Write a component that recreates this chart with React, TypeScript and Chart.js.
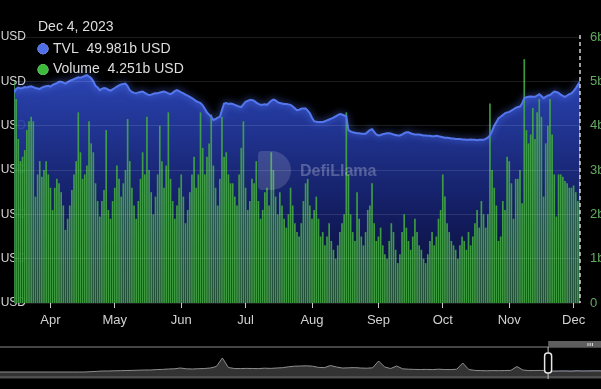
import React, { useEffect, useRef } from 'react';
import { Chart, registerables, Tooltip } from 'chart.js';

Chart.register(...registerables);

// ---------------- data ----------------
const START_YEAR = 2023;
const START_MONTH = 2; // March (0-based)
const START_DAY = 15;

const TVL = [
  47.5, 48.3, 48.6, 48.4, 48.5, 48.7, 48.6, 48.8, 48.9, 48.7,
  48.5, 48.4, 48.3, 48.6, 48.8, 48.9, 49.0, 48.8, 49.2, 49.4,
  49.6, 49.9, 49.9, 49.7, 49.5, 49.8, 50.1, 50.3, 50.5, 50.7,
  50.9, 50.8, 51.0, 51.2, 51.4, 51.1, 50.7, 50.0, 49.0, 48.6,
  48.0, 48.3, 48.5, 48.4, 48.1, 47.9, 48.2, 48.5, 48.8, 49.1,
  49.3, 49.4, 49.5, 48.9, 48.0, 47.6, 47.4, 47.3, 47.5, 47.6,
  47.7, 47.4, 47.1, 46.9, 47.0, 47.2, 47.3, 47.3, 47.5, 47.6,
  47.7, 47.5, 47.3, 47.1, 47.4, 47.8, 48.0, 47.8, 47.5, 47.3,
  47.0, 46.8, 46.5, 46.2, 45.9, 45.5, 45.3, 45.1, 44.6, 43.8,
  43.0, 42.5, 42.0, 41.3, 41.5, 41.8, 42.0, 43.5, 45.0, 45.1,
  44.9, 45.0, 44.9, 44.7, 44.5, 44.3, 44.2, 44.8, 45.4, 45.6,
  45.8, 45.8, 45.6, 45.2, 44.9, 44.7, 44.7, 44.8, 44.7, 45.2,
  45.6, 45.9, 45.7, 45.3, 45.1, 45.0, 44.9, 44.9, 44.8, 44.7,
  44.3, 43.9, 43.5, 43.6, 43.8, 43.9, 43.9, 43.4, 42.8, 41.8,
  41.0, 40.9, 40.8, 40.8, 40.8, 41.0, 41.2, 41.4, 41.6, 41.8,
  42.1, 42.4, 42.6, 42.5, 42.3, 42.1, 39.0, 38.7, 38.5, 38.4,
  38.3, 38.3, 38.2, 38.2, 38.2, 38.6, 39.0, 39.2, 38.6, 38.0,
  37.8, 37.9, 38.1, 38.2, 38.3, 38.3, 38.2, 38.0, 37.9, 37.8,
  37.8, 38.0, 38.3, 38.5, 38.5, 38.3, 38.1, 38.0, 38.0, 38.0,
  37.9, 37.8, 37.8, 37.7, 37.7, 37.6, 37.6, 37.7, 37.6, 37.5,
  37.4, 37.3, 37.3, 37.2, 37.1, 37.1, 37.0, 37.0, 37.0, 36.9,
  36.9, 36.8, 36.8, 36.9, 36.8, 36.8, 36.7, 36.8, 36.8, 36.8,
  37.0, 37.3, 37.8, 38.8, 40.0, 40.8, 41.7, 42.0, 42.4, 42.8,
  43.0, 43.1, 43.4, 43.7, 44.0, 44.2, 44.3, 45.0, 46.2, 46.4,
  46.5, 46.6, 46.5, 46.5, 46.8, 47.1, 46.7, 46.2, 46.5, 46.8,
  46.9, 47.3, 47.7, 47.6, 47.4, 47.0, 46.7, 46.5, 46.8, 47.1,
  47.3, 47.8, 48.4, 49.2, 49.981,
];

const VOLUME = [
  5.0, 4.6, 3.7, 3.2, 3.3, 3.45, 3.9, 4.1, 4.2, 4.1,
  2.4, 2.9, 3.2, 2.85, 3.0, 3.2, 2.9, 2.6, 2.1, 2.6,
  2.8, 2.7, 2.5, 2.2, 1.65, 1.9, 2.2, 2.55, 2.9, 3.2,
  4.3, 3.4, 2.8, 2.9, 3.1, 4.1, 3.6, 3.4, 2.7, 2.3,
  1.95, 2.3, 2.55, 3.9, 2.1, 1.9, 2.3, 2.6, 3.1, 2.8,
  2.4, 2.7, 3.0, 4.15, 3.2, 2.6, 2.2, 1.9, 2.3, 2.8,
  3.4, 2.9, 4.2, 3.0, 2.5, 2.0, 2.4, 2.9, 4.0, 3.2,
  2.6, 3.1, 4.3, 2.8, 2.3, 1.9, 2.2, 2.6, 2.9, 2.4,
  1.8, 2.1, 2.5, 2.9, 3.3, 2.6, 2.9, 4.3, 3.5, 2.9,
  3.3, 3.6, 4.25, 3.1, 2.6, 2.2, 2.8, 4.2, 3.3, 3.4,
  2.9, 2.7, 2.7, 2.4, 2.2, 2.9, 3.5, 4.1, 2.6, 2.1,
  2.3, 2.8, 2.7, 3.2, 2.3, 1.9, 2.1, 2.5, 2.6, 2.2,
  3.4, 3.0, 2.4, 2.0, 2.5, 2.2, 1.9, 1.7, 2.0, 2.6,
  2.2, 1.8, 1.6, 1.5, 1.8, 2.3, 2.7, 2.8, 2.2, 1.9,
  2.1, 2.4, 1.9, 1.5, 1.6, 1.3, 1.5, 1.8, 1.4, 1.2,
  1.0, 1.3, 1.6, 1.8, 2.0, 4.3, 2.9, 2.0, 1.6, 1.4,
  2.5, 1.9, 1.5, 1.3, 1.6, 2.1, 2.2, 2.7, 1.8, 1.4,
  1.5, 1.7, 1.3, 1.1, 1.0, 1.4, 1.8, 1.6, 1.2, 0.9,
  1.1, 1.6, 2.0, 1.7, 1.4, 1.2, 1.5, 1.9, 1.6, 1.3,
  1.2, 1.0, 0.9, 1.1, 1.4, 1.6, 1.3, 1.5, 1.9, 2.1,
  2.9, 2.4, 1.8, 1.6, 1.4, 1.3, 1.2, 1.0, 1.3, 1.5,
  1.4, 1.2, 1.6, 1.3, 1.5, 1.8, 2.1, 1.7, 2.3, 2.0,
  1.7, 2.0, 4.5, 3.0, 2.6, 2.2, 1.4, 1.5, 2.3, 2.1,
  3.3, 3.2, 2.7, 1.9, 2.8, 2.8, 3.0, 2.25, 5.5, 3.9,
  3.6, 3.8, 4.4, 3.7, 4.3, 4.6, 4.2, 2.4, 3.6, 4.0,
  4.6, 3.8, 2.9, 1.95, 2.9, 2.9, 2.85, 2.75, 2.7, 2.6,
  2.6, 2.65, 2.5, 2.3, 4.251,
];

// overview series shown in the zoom slider (full history)
const OVERVIEW = [
  4, 4, 4, 4, 4, 4, 4, 4, 4, 4,
  4, 4, 4, 4, 4, 4.3, 4.6, 5, 5, 5.2,
  5.3, 5.5, 5.6, 5.8, 6, 6, 6.4, 6.6, 7, 7.2,
  8, 7.2, 7, 7.3, 7.5, 8, 9.5, 18, 8.5, 7.5,
  7.4, 7.6, 7.5, 7.4, 7.8, 7.6, 8, 8.3, 9.2, 9.8,
  10, 10.2, 9.8, 8.6, 8.4, 10.5, 9, 8, 8.2, 8.4,
  8, 7.8, 8.2, 15, 9, 7.5, 10, 7.2, 6.8, 6.6,
  6.5, 6.6, 6.4, 6.8, 6.5, 6.4, 6.8, 13, 6.5, 5.6,
  5.4, 5.2, 5.4, 5.3, 5.5, 5.6, 9.5, 6, 5.4, 5.5,
  5.6, 5.3, 4.8, 4.9, 5, 4.8, 5.1, 4.9, 5, 5.1,
  5,
];
const ZOOM_START = 91.2;

const LEFT_TICKS = [0, 10, 20, 30, 40, 50, 60];
const RIGHT_TICKS = [0, 1, 2, 3, 4, 5, 6];
const MONTH_NAMES = ['Jan', 'Feb', 'Mar', 'Apr', 'May', 'Jun', 'Jul', 'Aug', 'Sep', 'Oct', 'Nov', 'Dec'];

const DATES = TVL.map((_, i) => new Date(Date.UTC(START_YEAR, START_MONTH, START_DAY + i)));
const MONTH_TICKS = DATES.map((d, i) => (d.getUTCDate() === 1 ? i : -1)).filter((i) => i >= 0);
const LAST = TVL.length - 1;

const FONT = 'Liberation Sans, Arial, Helvetica, sans-serif';

const OFFSET_X = 40;
const MAIN_W = 661;
const MAIN_H = 340;

(Tooltip.positioners as any).fixedTopLeft = function () {
  const chart = (this as any).chart;
  return { x: chart.chartArea.left + 24, y: 18.6, xAlign: 'left', yAlign: 'top' };
};

function fmtDate(d: Date) {
  return `${MONTH_NAMES[d.getUTCMonth()]} ${d.getUTCDate()}, ${d.getUTCFullYear()}`;
}

export default function App() {
  const mainRef = useRef<HTMLCanvasElement | null>(null);
  const sliderRef = useRef<HTMLCanvasElement | null>(null);

  useEffect(() => {
    document.documentElement.style.background = '#000';
    document.body.style.background = '#000';
    document.body.style.margin = '0';
    document.body.style.overflow = 'hidden';

    Chart.defaults.font.family = FONT;

    const glow = {
      id: 'glow',
      beforeDatasetDraw(chart: any, args: any) {
        if (args.index === 0) {
          chart.ctx.save();
          chart.ctx.shadowColor = 'rgba(90,125,255,0.9)';
          chart.ctx.shadowBlur = 7;
        }
      },
      afterDatasetDraw(chart: any, args: any) {
        if (args.index === 0) chart.ctx.restore();
      },
    };

    const crosshair = {
      id: 'crosshair',
      afterDatasetsDraw(chart: any) {
        const { ctx, chartArea } = chart;
        const x = chart.scales.x.getPixelForValue(LAST);
        ctx.save();
        ctx.strokeStyle = 'rgba(235,235,235,0.9)';
        ctx.lineWidth = 1.5;
        ctx.setLineDash([4, 3]);
        ctx.beginPath();
        ctx.moveTo(x, chartArea.top - 2);
        ctx.lineTo(x, chartArea.bottom);
        ctx.stroke();
        ctx.restore();
      },
    };

    const main = new Chart(mainRef.current!, {
      type: 'bar',
      data: {
        datasets: [
          {
            type: 'line',
            label: 'TVL',
            data: TVL.map((v, i) => ({ x: i, y: v })),
            yAxisID: 'y',
            borderColor: '#5577ee',
            borderWidth: 2,
            pointRadius: 0,
            tension: 0,
            fill: 'origin',
            order: 0,
            backgroundColor: (ctx: any) => {
              const { chart } = ctx;
              const ca = chart.chartArea;
              if (!ca) return 'rgba(40,60,170,0.8)';
              const g = chart.ctx.createLinearGradient(0, ca.top, 0, ca.bottom);
              g.addColorStop(0, 'rgba(54,84,212,0.95)');
              g.addColorStop(0.3, 'rgba(37,60,165,0.92)');
              g.addColorStop(0.65, 'rgba(22,34,112,0.88)');
              g.addColorStop(1, 'rgba(10,15,55,0.85)');
              return g;
            },
          } as any,
          {
            type: 'bar',
            label: 'Volume',
            data: VOLUME.map((v, i) => ({ x: i, y: v })),
            yAxisID: 'y1',
            backgroundColor: 'rgba(68,170,64,0.9)',
            borderWidth: 0,
            barPercentage: 0.78,
            categoryPercentage: 1,
            order: 1,
          } as any,
        ],
      },
      options: {
        responsive: false,
        animation: false,
        events: [],
        layout: { padding: { top: 37, bottom: 7, left: 0, right: 0 } },
        scales: {
          x: {
            type: 'linear',
            min: 0,
            max: LAST,
            offset: false,
            grid: { display: true, drawOnChartArea: false, drawTicks: true, tickLength: 5, color: '#c8c8c8', offset: false },
            border: { display: false },
            afterBuildTicks: (scale: any) => {
              scale.ticks = MONTH_TICKS.map((v) => ({ value: v }));
            },
            afterFit: (scale: any) => {
              scale.height = 30;
            },
            ticks: {
              autoSkip: false,
              maxRotation: 0,
              padding: 5,
              color: '#d2d2d2',
              font: { size: 13 },
              callback: (v: any) => MONTH_NAMES[DATES[Math.round(v)].getUTCMonth()],
            },
          },
          y: {
            type: 'linear',
            position: 'left',
            min: 0,
            max: 60,
            afterBuildTicks: (scale: any) => {
              scale.ticks = LEFT_TICKS.map((v) => ({ value: v }));
            },
            afterFit: (scale: any) => {
              scale.width = 54;
              // let the labels reach into the plot area (no clipping at the axis edge)
              scale._computeLabelArea = () => undefined;
            },
            grid: { color: 'rgba(255,255,255,0.11)', drawTicks: false, lineWidth: 1, z: 1 },
            border: { display: false },
            ticks: {
              padding: -12,
              color: '#d6d6d6',
              font: { size: 12 },
              callback: (v: any) => (v === 0 ? '0 USD' : `${v}b USD`),
            },
          },
          y1: {
            type: 'linear',
            position: 'right',
            min: 0,
            max: 6,
            afterBuildTicks: (scale: any) => {
              scale.ticks = RIGHT_TICKS.map((v) => ({ value: v }));
            },
            afterFit: (scale: any) => {
              scale.width = 41;
            },
            grid: { display: false, drawTicks: false },
            border: { display: false },
            ticks: {
              padding: 10,
              color: '#62a862',
              font: { size: 13 },
              callback: (v: any) => (v === 0 ? '0' : `${v}b`),
            },
          },
        },
        plugins: {
          legend: { display: false },
          filler: { drawTime: 'beforeDatasetsDraw' } as any,
          tooltip: {
            enabled: true,
            position: 'fixedTopLeft' as any,
            backgroundColor: 'rgba(0,0,0,0)',
            borderWidth: 0,
            caretSize: 0,
            caretPadding: 0,
            cornerRadius: 0,
            padding: 0,
            titleColor: '#dedede',
            bodyColor: '#dedede',
            titleFont: { size: 14, weight: 'normal' },
            bodyFont: { size: 14 },
            titleMarginBottom: 5,
            bodySpacing: 4,
            displayColors: true,
            usePointStyle: true,
            boxWidth: 10,
            boxHeight: 10,
            boxPadding: 3,
            callbacks: {
              title: (items: any[]) => fmtDate(DATES[items[0].dataIndex]),
              label: (c: any) => `${c.dataset.label}  ${c.parsed.y.toFixed(3)}b USD`,
              labelColor: (c: any) => {
                const col = c.datasetIndex === 0 ? '#4f6fe8' : '#3cba3c';
                return { borderColor: col, backgroundColor: col, borderWidth: 0 } as any;
              },
              labelPointStyle: () => ({ pointStyle: 'circle', rotation: 0 }) as any,
            },
          },
        },
      } as any,
      plugins: [glow, crosshair],
    });

    main.tooltip!.setActiveElements(
      [
        { datasetIndex: 0, index: LAST },
        { datasetIndex: 1, index: LAST },
      ],
      { x: main.scales.x.getPixelForValue(LAST), y: main.chartArea.top + 40 }
    );
    main.update();

    const sliderDecor = {
      id: 'sliderDecor',
      beforeDatasetsDraw(chart: any) {
        const { ctx, chartArea, width } = chart;
        ctx.save();
        ctx.fillStyle = '#4e4e4e';
        ctx.fillRect(0, chartArea.bottom, width, 2.5);
        ctx.strokeStyle = '#5c5c5c';
        ctx.lineWidth = 1.5;
        ctx.beginPath();
        ctx.moveTo(0, chartArea.top - 1);
        ctx.lineTo(width, chartArea.top - 1);
        ctx.stroke();
        ctx.restore();
      },
      afterDatasetsDraw(chart: any) {
        const { ctx, chartArea, width } = chart;
        const x = chart.scales.x.getPixelForValue(ZOOM_START);
        ctx.save();
        // move bar
        ctx.fillStyle = '#5e5e5e';
        ctx.fillRect(x, 1, width - x, chartArea.top - 2);
        ctx.strokeStyle = '#e0e0e0';
        ctx.lineWidth = 1;
        for (let k = 0; k < 3; k++) {
          const gx = width - 13 + k * 2.2;
          ctx.beginPath();
          ctx.moveTo(gx, 3);
          ctx.lineTo(gx, 6);
          ctx.stroke();
        }
        // handle
        ctx.strokeStyle = '#c8c8c8';
        ctx.lineWidth = 1;
        ctx.beginPath();
        ctx.moveTo(x, chartArea.top - 1);
        ctx.lineTo(x, chartArea.bottom + 3);
        ctx.stroke();
        ctx.fillStyle = '#000';
        ctx.strokeStyle = '#e6e6e6';
        ctx.lineWidth = 1.5;
        ctx.beginPath();
        (ctx as any).roundRect(x - 3.5, chartArea.top + 5, 7, 20, 3);
        ctx.fill();
        ctx.stroke();
        ctx.restore();
      },
    };

    const zoomFrom = Math.floor(ZOOM_START);
    const slider = new Chart(sliderRef.current!, {
      type: 'line',
      data: {
        datasets: [
          {
            data: OVERVIEW.map((v, i) => ({ x: i, y: v })),
            borderColor: '#8e8e8e',
            borderWidth: 1,
            backgroundColor: '#333333',
            fill: 'origin',
            pointRadius: 0,
            tension: 0,
          },
          {
            data: OVERVIEW.map((v, i) => ({ x: i, y: v })).filter((p) => p.x >= zoomFrom),
            borderColor: '#5d74a8',
            borderWidth: 1,
            backgroundColor: '#0c1a3c',
            fill: 'origin',
            pointRadius: 0,
            tension: 0,
          },
        ],
      },
      options: {
        responsive: false,
        animation: false,
        events: [],
        layout: { padding: { top: 8, bottom: 6, left: 0, right: 0 } },
        scales: {
          x: { type: 'linear', display: false, min: 0, max: OVERVIEW.length - 1 },
          y: { type: 'linear', display: false, min: 0, max: 28 },
        },
        plugins: { legend: { display: false }, tooltip: { enabled: false } },
      } as any,
      plugins: [sliderDecor],
    });

    return () => {
      main.destroy();
      slider.destroy();
    };
  }, []);

  return (
    <div style={{ position: 'fixed', left: 0, top: 0, width: 601, height: 389, background: '#000', overflow: 'hidden' }}>
      <canvas
        ref={mainRef}
        width={MAIN_W}
        height={MAIN_H}
        style={{ position: 'absolute', left: -OFFSET_X, top: 0, width: MAIN_W, height: MAIN_H }}
      />
      <div
        style={{
          position: 'absolute',
          left: 258,
          top: 151,
          width: 33,
          height: 39,
          borderRadius: '4px 20px 20px 4px',
          background: 'rgba(255,255,255,0.15)',
          pointerEvents: 'none',
        }}
      />
      <div
        style={{
          position: 'absolute',
          left: 300,
          top: 162,
          fontFamily: FONT,
          fontWeight: 'bold',
          fontSize: 16,
          color: 'rgba(255,255,255,0.26)',
          pointerEvents: 'none',
        }}
      >
        DefiLlama
      </div>
      <canvas
        ref={sliderRef}
        width={601}
        height={42}
        style={{ position: 'absolute', left: 0, top: 340, width: 601, height: 42 }}
      />
    </div>
  );
}
